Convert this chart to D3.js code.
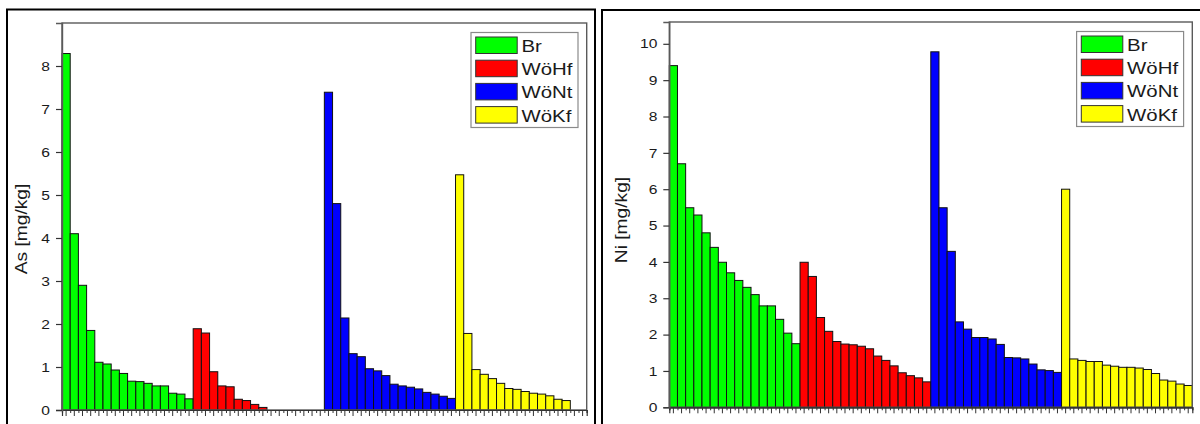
<!DOCTYPE html>
<html>
<head>
<meta charset="utf-8">
<script src="https://cdn.jsdelivr.net/npm/d3@7"></script>
<style>
  body { margin: 0; background: #fff; }
  svg { display: block; }
  text { font-family: "Liberation Sans", Arial, sans-serif; fill: #1a1a1a; }
</style>
</head>
<body>
<svg id="chart" width="1200" height="424"></svg>
<script>
// Sample groups and their fill colours
const groups = ["Br", "WöHf", "WöNt", "WöKf"];
const groupColors = ["#00ff00", "#ff0000", "#0000ff", "#ffff00"];

// Arsenic [mg/kg], samples sorted descending within each group
const asBr   = [8.29, 4.10, 2.90, 1.85, 1.11, 1.07, 0.93, 0.85, 0.67, 0.66, 0.62, 0.56, 0.56, 0.39, 0.37, 0.26];
const asWoHf = [1.89, 1.79, 0.89, 0.56, 0.54, 0.25, 0.22, 0.13, 0.06, 0, 0, 0, 0, 0, 0, 0];
const asWoNt = [7.39, 4.80, 2.14, 1.31, 1.24, 0.96, 0.91, 0.80, 0.60, 0.56, 0.53, 0.49, 0.41, 0.37, 0.32, 0.27];
const asWoKf = [5.47, 1.78, 0.94, 0.83, 0.73, 0.62, 0.50, 0.48, 0.43, 0.39, 0.37, 0.33, 0.25, 0.22, 0, 0];

// Nickel [mg/kg]
const niBr   = [9.40, 6.70, 5.49, 5.29, 4.80, 4.40, 3.99, 3.70, 3.49, 3.30, 3.10, 2.79, 2.79, 2.42, 2.04, 1.75];
const niWoHf = [3.99, 3.60, 2.47, 2.09, 1.81, 1.74, 1.72, 1.68, 1.61, 1.41, 1.29, 1.14, 0.95, 0.87, 0.81, 0.70];
const niWoNt = [9.78, 5.49, 4.29, 2.35, 2.15, 1.92, 1.92, 1.88, 1.73, 1.37, 1.36, 1.33, 1.19, 1.03, 1.01, 0.96];
const niWoKf = [6.00, 1.33, 1.29, 1.26, 1.26, 1.16, 1.13, 1.10, 1.10, 1.08, 1.04, 0.93, 0.75, 0.72, 0.64, 0.60];

// Y-axis tick values
const asTicks = [0, 1, 2, 3, 4, 5, 6, 7, 8];
const niTicks = [0, 1, 2, 3, 4, 5, 6, 7, 8, 9, 10];

const svg = d3.select("#chart");
const STRETCH = 1.2; // wide sans lettering

function buildRows(seriesList) {
  const rows = [];
  seriesList.forEach((vals, gi) => {
    vals.forEach((v, i) => rows.push({ group: groups[gi], gi, idx: rows.length, value: v }));
  });
  return rows;
}

function drawPanel(cfg) {
  // outer panel border
  svg.append("rect")
    .attr("x", cfg.panel[0]).attr("y", cfg.panel[1])
    .attr("width", cfg.panel[2]).attr("height", 600)
    .attr("fill", "none").attr("stroke", "#000").attr("stroke-width", 2);

  const rows = buildRows(cfg.series);
  const f = cfg.frame;
  const x = d3.scaleBand().domain(rows.map(d => d.idx)).range([f.left, f.right]).padding(0);
  const xEdge = d3.scaleLinear().domain([0, rows.length]).range([f.left, f.right]);
  const y = d3.scaleLinear().domain([0, cfg.yMax]).range([f.bottom, f.top]);

  // bars
  svg.append("g").selectAll("rect")
    .data(rows.filter(d => d.value > 0))
    .join("rect")
    .attr("x", d => x(d.idx))
    .attr("y", d => y(d.value))
    .attr("width", x.bandwidth())
    .attr("height", d => y(0) - y(d.value))
    .attr("fill", d => groupColors[d.gi])
    .attr("stroke", "#111")
    .attr("stroke-width", 1);

  // plot frame
  svg.append("rect")
    .attr("x", f.left).attr("y", f.top)
    .attr("width", f.right - f.left).attr("height", f.bottom - f.top)
    .attr("fill", "none").attr("stroke", "#5a5a5a").attr("stroke-width", 1.4);

  // x axis: major ticks at sample centres, minor ticks at bar edges
  const xMajor = svg.append("g").attr("transform", `translate(0,${f.bottom})`)
    .call(d3.axisBottom(x).tickSize(6).tickFormat(""));
  const xMinor = svg.append("g").attr("transform", `translate(0,${f.bottom})`)
    .call(d3.axisBottom(xEdge).tickValues(d3.range(0, rows.length + 1)).tickSize(3).tickFormat(""));
  [xMajor, xMinor].forEach(g => {
    g.select(".domain").attr("stroke", "#333").attr("stroke-width", 1.2);
    g.selectAll(".tick line").attr("stroke", "#333").attr("stroke-width", 1);
  });

  // y axis
  const gy = svg.append("g").attr("transform", `translate(${f.left},0)`)
    .call(d3.axisLeft(y).tickValues(cfg.ticks).tickSize(6).tickPadding(6).tickFormat(d3.format("d")));
  gy.select(".domain").attr("stroke", "#5a5a5a").attr("stroke-width", 1.4);
  gy.selectAll(".tick line").attr("stroke", "#333").attr("stroke-width", 1.2);
  gy.selectAll(".tick text")
    .attr("font-size", 13)
    .attr("font-family", "Liberation Sans, Arial, sans-serif")
    .attr("fill", "#1a1a1a")
    .attr("x", -12 / STRETCH)
    .attr("transform", `scale(${STRETCH},1)`);

  // y axis title
  svg.append("g")
    .attr("transform", `translate(${cfg.titlePos[0]},${cfg.titlePos[1]}) rotate(-90)`)
    .append("text")
    .attr("text-anchor", "middle")
    .attr("font-size", 16)
    .attr("transform", `scale(${STRETCH},1)`)
    .text(cfg.title);

  // legend
  const lg = svg.append("g").attr("transform", `translate(${f.right - 115.7},${f.top + 9.5})`);
  lg.append("rect").attr("width", 107).attr("height", 95)
    .attr("fill", "#fff").attr("stroke", "#8a8a8a").attr("stroke-width", 1.2);
  groups.forEach((name, i) => {
    const row = lg.append("g").attr("transform", `translate(0,${4.5 + i * 23.2})`);
    row.append("rect").attr("x", 4.7).attr("width", 41.5).attr("height", 16.5)
      .attr("fill", groupColors[i]).attr("stroke", "#333").attr("stroke-width", 1);
    row.append("g").attr("transform", `translate(50.5,15)`)
      .append("text").attr("font-size", 17)
      .attr("transform", `scale(${STRETCH},1)`)
      .text(name);
  });
}

drawPanel({
  panel: [7, 9.5, 588],
  frame: { left: 62, top: 23, right: 586.7, bottom: 410 },
  yMax: 9,
  ticks: asTicks,
  series: [asBr, asWoHf, asWoNt, asWoKf],
  title: "As [mg/kg]",
  titlePos: [27, 229]
});

drawPanel({
  panel: [602, 10, 700],
  frame: { left: 669.3, top: 22, right: 1192.3, bottom: 407.3 },
  yMax: 10.6,
  ticks: niTicks,
  series: [niBr, niWoHf, niWoNt, niWoKf],
  title: "Ni [mg/kg]",
  titlePos: [627, 220]
});
</script>
</body>
</html>
